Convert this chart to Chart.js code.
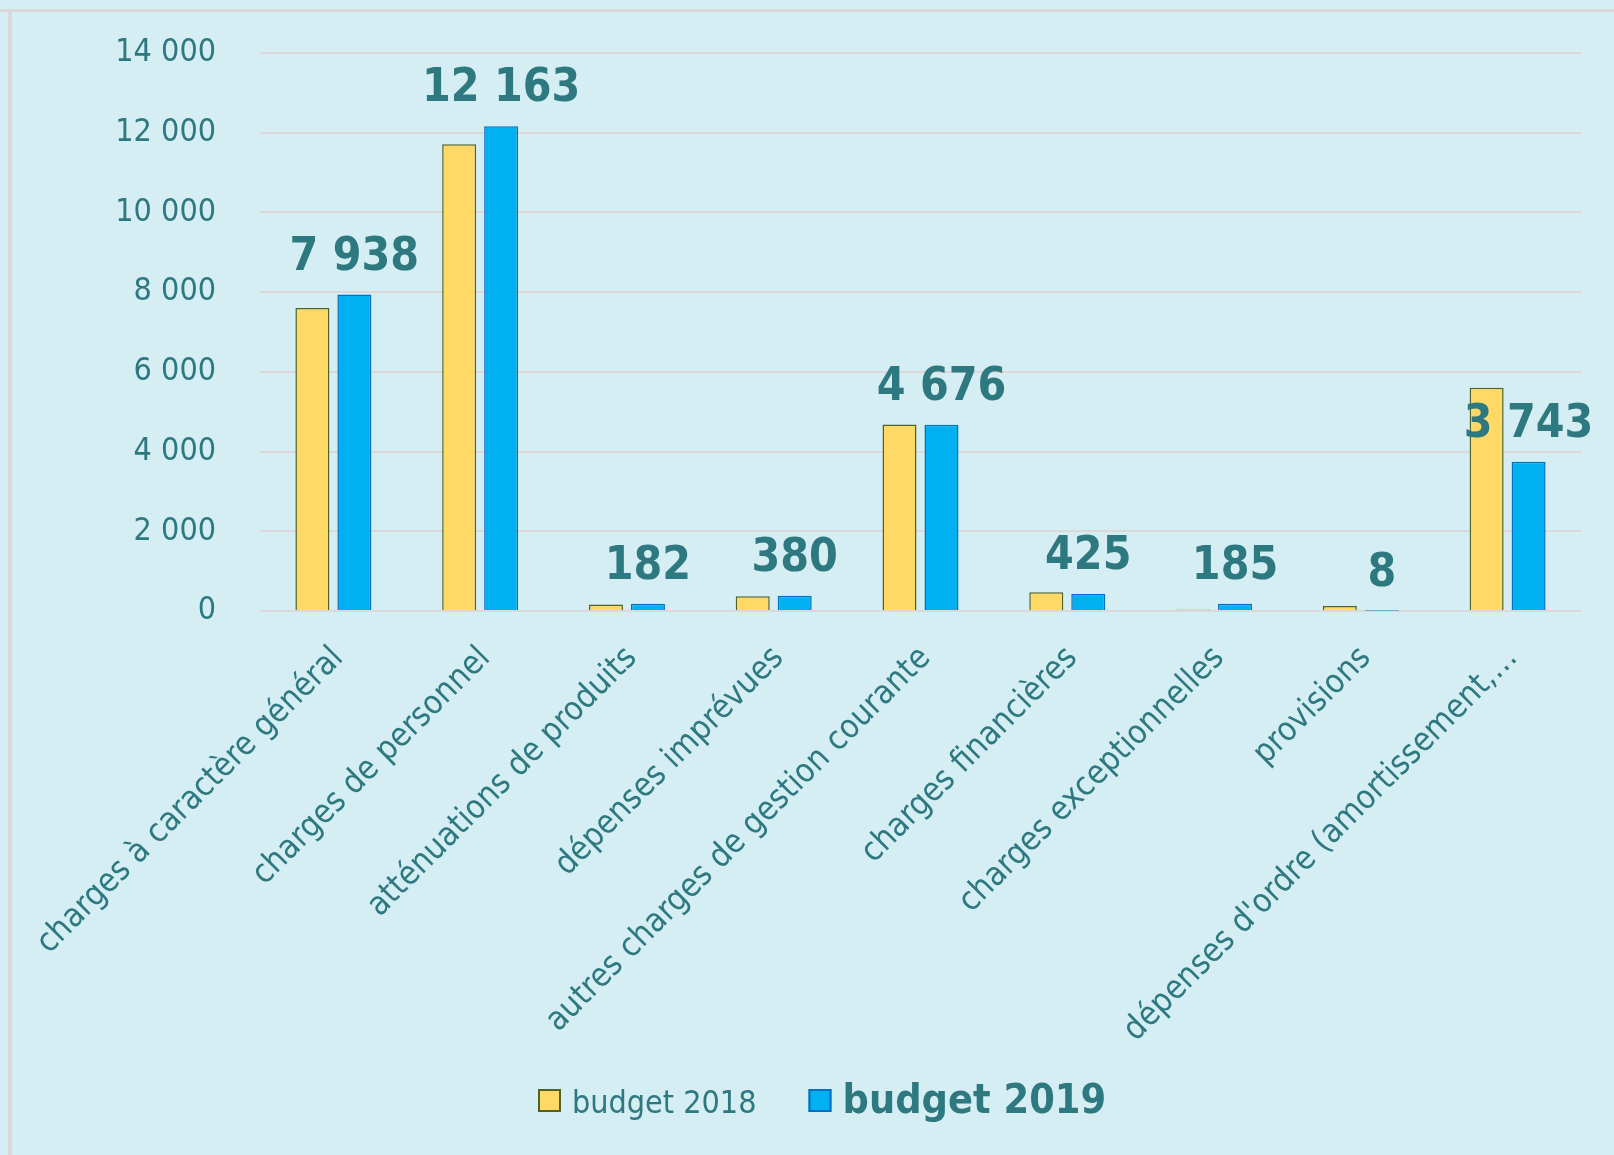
<!DOCTYPE html>
<html>
<head>
<meta charset="utf-8">
<script src="https://cdn.jsdelivr.net/npm/chart.js@4.4.1/dist/chart.umd.min.js"></script>
<style>
  html, body { margin: 0; padding: 0; background: #D4EEF3; }
  #wrap { width: 1614px; height: 1155px; position: relative; }
</style>
</head>
<body>
<div id="wrap"><canvas id="budgetChart" width="1614" height="1155"></canvas></div>
<script>
const categories = [
    'charges à caractère général',
    'charges de personnel',
    'atténuations de produits',
    'dépenses imprévues',
    'autres charges de gestion courante',
    'charges financières',
    'charges exceptionnelles',
    'provisions',
    "dépenses d'ordre (amortissement,…"
];
const budget2018 = [7600, 11710, 165, 370, 4680, 470, 40, 123, 5600];
const budget2019 = [7938, 12163, 182, 380, 4676, 425, 185, 8, 3743];
const yTicks = [0, 2000, 4000, 6000, 8000, 10000, 12000, 14000];

const TEXT = '#2E7880';
const BG = '#D4EEF3';
const FAMILY = "'DejaVu Sans Condensed', 'DejaVu Sans', sans-serif";

function fmt(v) {
    return String(v).replace(/\B(?=(\d{3})+(?!\d))/g, ' ');
}

// background + frame
const bgPlugin = {
    id: 'bg',
    beforeDraw(chart) {
        const ctx = chart.ctx;
        ctx.save();
        ctx.fillStyle = BG;
        ctx.fillRect(0, 0, chart.width, chart.height);
        ctx.fillStyle = '#D9D7D8';
        ctx.fillRect(0, 9, chart.width, 3);
        ctx.fillRect(8, 9, 4, chart.height);
        ctx.restore();
    }
};

// value labels above the 2019 bars
const valueLabels = {
    id: 'valueLabels',
    afterDatasetsDraw(chart) {
        const ctx = chart.ctx;
        const meta = chart.getDatasetMeta(1);
        ctx.save();
        ctx.fillStyle = TEXT;
        ctx.font = 'bold 46px ' + FAMILY;
        ctx.textAlign = 'center';
        ctx.textBaseline = 'alphabetic';
        meta.data.forEach((bar, i) => {
            ctx.fillText(fmt(budget2019[i]), bar.x, bar.y - 25);
        });
        ctx.restore();
    }
};

// legend with different weights per item
const customLegend = {
    id: 'customLegend',
    afterDraw(chart) {
        const ctx = chart.ctx;
        const items = [
            { text: 'budget 2018', fill: '#FFD966', stroke: '#4F6228', font: '32px ' + FAMILY },
            { text: 'budget 2019', fill: '#00B0F0', stroke: '#0070C0', font: 'bold 41px ' + FAMILY }
        ];
        let x = 538;
        const baseY = 1113;
        ctx.save();
        items.forEach(it => {
            ctx.fillStyle = it.fill;
            ctx.fillRect(x, 1089, 23, 23);
            ctx.strokeStyle = it.stroke;
            ctx.lineWidth = 2;
            ctx.strokeRect(x + 1, 1090, 21, 21);
            ctx.font = it.font;
            ctx.fillStyle = TEXT;
            ctx.textAlign = 'left';
            ctx.textBaseline = 'alphabetic';
            ctx.fillText(it.text, x + 34, baseY);
            x += 34 + ctx.measureText(it.text).width + 52;
        });
        ctx.restore();
    }
};

new Chart(document.getElementById('budgetChart'), {
    type: 'bar',
    data: {
        labels: categories,
        datasets: [
            {
                label: 'budget 2018',
                data: budget2018,
                backgroundColor: '#FFD966',
                borderColor: '#4F6228',
                borderWidth: 1.5,
                categoryPercentage: 0.572,
                barPercentage: 0.81
            },
            {
                label: 'budget 2019',
                data: budget2019,
                backgroundColor: '#00B0F0',
                borderColor: '#0070C0',
                borderWidth: 1.5,
                categoryPercentage: 0.572,
                barPercentage: 0.81
            }
        ]
    },
    options: {
        responsive: false,
        animation: false,
        layout: { padding: { top: 53, right: 33, bottom: 0, left: 0 } },
        plugins: {
            legend: { display: false },
            tooltip: { enabled: false }
        },
        scales: {
            x: {
                grid: { display: false, drawTicks: false },
                border: { display: false },
                ticks: {
                    color: TEXT,
                    font: { family: FAMILY, size: 33 },
                    minRotation: 45,
                    maxRotation: 45,
                    autoSkip: false,
                    padding: 28,
                    labelOffset: 5
                },
                afterFit(scale) {
                    scale.height = 1155 - 611;
                    scale.paddingLeft = 0;
                    scale.paddingRight = 0;
                }
            },
            y: {
                min: 0,
                max: 14000,
                afterBuildTicks(scale) { scale.ticks = yTicks.map(v => ({ value: v })); },
                grid: { color: '#DCD8D9', lineWidth: 2, drawTicks: false },
                border: { display: false },
                ticks: {
                    color: TEXT,
                    font: { family: FAMILY, size: 32 },
                    padding: 44,
                    callback: v => fmt(v)
                },
                afterFit(scale) {
                    scale.width = 260;
                    scale.paddingTop = 0;
                    scale.paddingBottom = 0;
                }
            }
        }
    },
    plugins: [bgPlugin, valueLabels, customLegend]
});
</script>
</body>
</html>
